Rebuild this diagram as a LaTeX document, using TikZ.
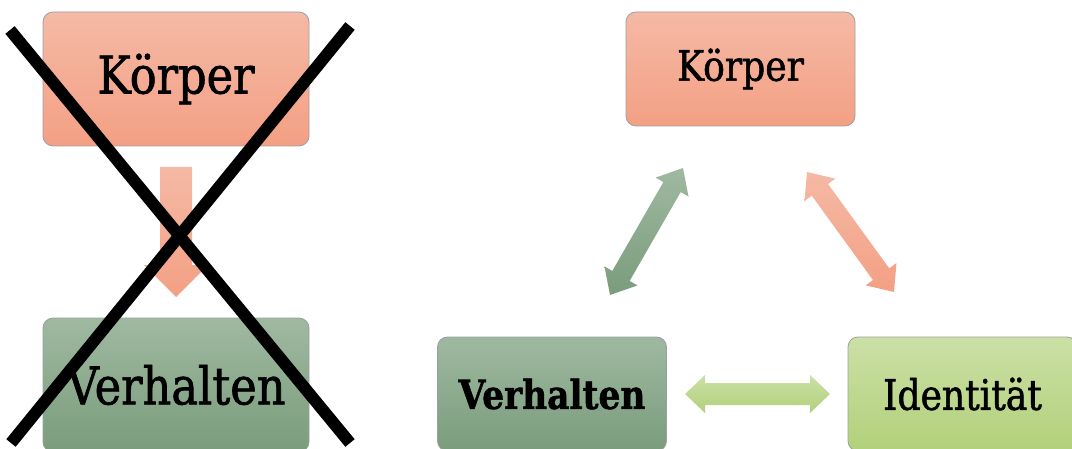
\documentclass[tikz,border=0pt]{standalone}
\usepackage{fontspec}
\setmainfont{DejaVu Serif}[FakeStretch=0.86, FakeBold=1.3]
\usetikzlibrary{calc}

\definecolor{orTop}{HTML}{F5B9A5}
\definecolor{orBot}{HTML}{F3A084}
\definecolor{grTop}{HTML}{9FB9A1}
\definecolor{grBot}{HTML}{7A9C7C}
\definecolor{liTop}{HTML}{CBE0A6}
\definecolor{liBot}{HTML}{B2D07A}

% double block arrow between two named coordinates
% #1 #2 ends, #3 shaft half width, #4 head half width, #5 head length, #6 shading
\newcommand\dblarrow[6]{%
  \shade[#6] (#1) -- ($(#1)!#5!(#2)!#4!90:(#2)$) -- ($(#1)!#5!(#2)!#3!90:(#2)$)
    -- ($(#2)!#5!(#1)!#3!-90:(#1)$) -- ($(#2)!#5!(#1)!#4!-90:(#1)$) -- (#2)
    -- ($(#2)!#5!(#1)!#4!90:(#1)$) -- ($(#2)!#5!(#1)!#3!90:(#1)$)
    -- ($(#1)!#5!(#2)!#3!-90:(#2)$) -- ($(#1)!#5!(#2)!#4!-90:(#2)$) -- cycle;}

\tikzset{
  box/.style={draw=gray!75, line width=0.4pt, rounded corners=5pt, inner sep=0pt},
  bigbox/.style={box, minimum width=133pt, minimum height=67pt, font=\fontsize{26}{30}\selectfont},
  smallbox/.style={box, minimum width=114.5pt, minimum height=57pt, font=\fontsize{21}{25}\selectfont},
  orfill/.style={top color=orTop, bottom color=orBot},
  grfill/.style={top color=grTop, bottom color=grBot},
  lifill/.style={top color=liTop, bottom color=liBot},
}

\begin{document}
\begin{tikzpicture}[x=0.5pt, y=-0.5pt]
\useasboundingbox (0,0) rectangle (1072,449);

% left: crossed out
\node[bigbox, orfill] (koerperL) at (176,79) {Körper};
\node[bigbox, grfill] (verhaltenL) at (176,385) {Verhalten};

\coordinate (downS) at (176,167);
\coordinate (downT) at (176,297);
\shade[orfill] ($(downS)+(-8pt,0)$) -- ($(downS)+(8pt,0)$) -- ($(downT)+(8pt,16pt)$)
  -- ($(downT)+(16pt,16pt)$) -- (downT) -- ($(downT)+(-16pt,16pt)$)
  -- ($(downT)+(-8pt,16pt)$) -- cycle;

\coordinate (crossA) at (10,30);
\coordinate (crossB) at (350,443);
\coordinate (crossC) at (350,26);
\coordinate (crossD) at (11,443);
\draw[line width=6pt] (crossA) -- (crossB);
\draw[line width=6pt] (crossC) -- (crossD);

% right: triangle
\node[smallbox, orfill] (koerper) at (740.5,69) {Körper};
\node[smallbox, grfill, font=\fontsize{20}{24}\selectfont\bfseries] (verhalten) at (552,394) {Verhalten};
\node[smallbox, lifill] (identitaet) at (962.5,394) {Identität};

\coordinate (gA) at (610,295);
\coordinate (gB) at (683,168);
\coordinate (oA) at (807,172);
\coordinate (oB) at (894,292);
\coordinate (hA) at (685,394);
\coordinate (hB) at (830,394);

\dblarrow{gA}{gB}{5pt}{9.5pt}{11pt}{grfill}
\dblarrow{oA}{oB}{5pt}{9.5pt}{11pt}{orfill}
\dblarrow{hA}{hB}{5.5pt}{9.5pt}{10pt}{lifill}
\end{tikzpicture}
\end{document}
